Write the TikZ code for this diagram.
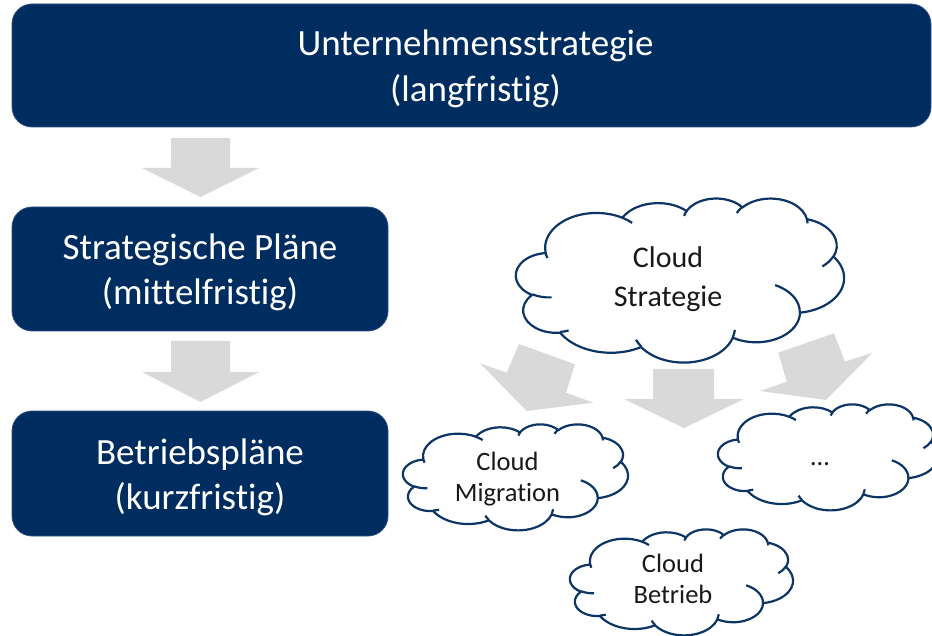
\documentclass[tikz,border=0pt]{standalone}
\usepackage{fontspec}
\setmainfont[Ligatures={NoCommon,NoContextual}]{Carlito}
\definecolor{navy}{RGB}{0,45,96}
\definecolor{navyedge}{RGB}{45,80,130}
\definecolor{cloudedge}{RGB}{12,52,100}
\definecolor{arrowgray}{RGB}{217,217,217}
\definecolor{cloudtext}{RGB}{25,25,25}
% convert DrawingML visual arc angles to TikZ parametric angles
\newcommand\CldConv[6]{%
  \pgfmathsetmacro\CldTS{atan2((#3)*sin(#5),(#4)*cos(#5))}%
  \pgfmathsetmacro\CldTE{atan2((#3)*sin((#5)+(#6)),(#4)*cos((#5)+(#6)))}%
  \pgfmathsetmacro\CldTD{\CldTE-\CldTS}%
  \pgfmathsetmacro\CldTD{\CldTD+360*round(((#6)-\CldTD)/360)}%
  \global\let#1\CldTS
  \global\let#2\CldTD}
\CldConv\clAs\clAd{6.753}{9.190}{-190.4875}{123.7805}
\CldConv\clBs\clBd{5.333}{7.267}{-144.1024}{89.9452}
\CldConv\clCs\clCd{4.365}{5.945}{-145.8079}{99.7230}
\CldConv\clDs\clDd{4.857}{6.595}{-130.9861}{117.2417}
\CldConv\clEs\clEd{5.333}{7.273}{-78.7089}{109.0269}
\CldConv\clFs\clFd{6.775}{9.220}{-46.2673}{130.2690}
\CldConv\clGs\clGd{5.785}{7.867}{0.6250}{114.0333}
\CldConv\clHs\clHd{6.752}{9.215}{22.4516}{115.1726}
\CldConv\clIs\clId{7.720}{10.543}{66.2426}{75.7110}
\CldConv\clJs\clJd{4.360}{5.918}{-274.9421}{146.7356}
\CldConv\clKs\clKd{4.345}{5.945}{-246.8285}{152.5189}
\CldConv\ciAs\ciAd{4.345}{5.945}{86.7420}{26.4295}
\CldConv\ciBs\ciBd{4.360}{5.918}{73.6105}{11.4475}
\CldConv\ciCs\ciCd{6.752}{9.215}{137.6242}{14.0811}
\CldConv\ciDs\ciDd{6.752}{9.215}{6.4533}{15.9984}
\CldConv\ciEs\ciEd{5.785}{7.867}{-70.2924}{70.9174}
\CldConv\ciFs\ciFd{5.333}{7.273}{30.3180}{27.7515}
\CldConv\ciGs\ciGd{4.857}{6.595}{-13.7443}{14.8589}
\CldConv\ciHs\ciHd{4.857}{6.595}{-149.1815}{18.1954}
\CldConv\ciIs\ciId{4.365}{5.945}{-163.4943}{17.8409}
\CldConv\ciJs\ciJd{6.753}{9.190}{-66.7070}{12.3194}
\CldConv\ciKs\ciKd{6.753}{9.190}{157.6544}{11.8582}
\tikzset{
  planbox/.style={fill=navy, draw=navyedge, line width=0.8pt, rounded corners=20pt, inner sep=0pt},
  boxtext/.style={text=white, align=center, font=\fontsize{37}{45.5}\selectfont, inner sep=0pt},
  blockarrow/.style={fill=arrowgray, draw=none},
  cloudline/.style={draw=cloudedge, line width=2.2pt, line join=round},
  cloudtxtbig/.style={text=cloudtext, align=center, font=\fontsize{30}{38.5}\selectfont, inner sep=0pt},
  cloudtxt/.style={text=cloudtext, align=center, font=\fontsize{26.5}{31}\selectfont, inner sep=0pt},
  pics/pptcloud/.style 2 args={code={
    \begin{scope}[xscale=#1/43.2, yscale=#2/43.2]
      \path[cloudline, fill=white] (3.9,14.37)
        arc[x radius=6.753, y radius=9.190, start angle=\clAs, delta angle=\clAd]
        arc[x radius=5.333, y radius=7.267, start angle=\clBs, delta angle=\clBd]
        arc[x radius=4.365, y radius=5.945, start angle=\clCs, delta angle=\clCd]
        arc[x radius=4.857, y radius=6.595, start angle=\clDs, delta angle=\clDd]
        arc[x radius=5.333, y radius=7.273, start angle=\clEs, delta angle=\clEd]
        arc[x radius=6.775, y radius=9.220, start angle=\clFs, delta angle=\clFd]
        arc[x radius=5.785, y radius=7.867, start angle=\clGs, delta angle=\clGd]
        arc[x radius=6.752, y radius=9.215, start angle=\clHs, delta angle=\clHd]
        arc[x radius=7.720, y radius=10.543, start angle=\clIs, delta angle=\clId]
        arc[x radius=4.360, y radius=5.918, start angle=\clJs, delta angle=\clJd]
        arc[x radius=4.345, y radius=5.945, start angle=\clKs, delta angle=\clKd]
        -- cycle;
      \path[cloudline]
        (4.693,26.177) arc[x radius=4.345, y radius=5.945, start angle=\ciAs, delta angle=\ciAd]
        (6.928,34.899) arc[x radius=4.360, y radius=5.918, start angle=\ciBs, delta angle=\ciBd]
        (16.478,39.090) arc[x radius=6.752, y radius=9.215, start angle=\ciCs, delta angle=\ciCd]
        (28.827,34.751) arc[x radius=6.752, y radius=9.215, start angle=\ciDs, delta angle=\ciDd]
        (34.129,22.954) arc[x radius=5.785, y radius=7.867, start angle=\ciEs, delta angle=\ciEd]
        (41.798,15.354) arc[x radius=5.333, y radius=7.273, start angle=\ciFs, delta angle=\ciFd]
        (38.324,5.426) arc[x radius=4.857, y radius=6.595, start angle=\ciGs, delta angle=\ciGd]
        (29.078,3.952) arc[x radius=4.857, y radius=6.595, start angle=\ciHs, delta angle=\ciHd]
        (22.141,4.720) arc[x radius=4.365, y radius=5.945, start angle=\ciIs, delta angle=\ciId]
        (14.000,5.192) arc[x radius=6.753, y radius=9.190, start angle=\ciJs, delta angle=\ciJd]
        (4.127,15.789) arc[x radius=6.753, y radius=9.190, start angle=\ciKs, delta angle=\ciKd];
    \end{scope}}}
}
\begin{document}
\begin{tikzpicture}[x=1pt, y=-1pt]
\path[use as bounding box, clip] (0,0) rectangle (932,636);
% plan boxes
\node[planbox, minimum width=919pt, minimum height=123pt] (ustrat) at (471.5,65.5) {};
\node[planbox, minimum width=376pt, minimum height=124pt] (splan) at (200,269) {};
\node[planbox, minimum width=376pt, minimum height=125pt] (bplan) at (200,473.5) {};
\node[boxtext] (ustrat-t) at ([shift={(4,3.5)}]ustrat.center) {Unternehmensstrategie\\(langfristig)};
\node[boxtext] (splan-t) at ([shift={(0,3.5)}]splan.center) {Strategische Pläne\\(mittelfristig)};
\node[boxtext] (bplan-t) at ([shift={(0,4)}]bplan.center) {Betriebspläne\\(kurzfristig)};
% block arrows
\fill[blockarrow] (171,138) -- (230,138) -- (230,168) -- (259,168) -- (200.5,197)
  -- (142,168) -- (171,168) -- cycle;
\fill[blockarrow] (171,341) -- (230,341) -- (230,372) -- (259,372) -- (200.5,402)
  -- (142,372) -- (171,372) -- cycle;
\fill[blockarrow] (653,369) -- (714,369) -- (714,399) -- (744,399) -- (684,428)
  -- (624,399) -- (653,399) -- cycle;
\fill[blockarrow] (519,344) -- (575,364.3) -- (566,392.7) -- (593.3,402.7)
  -- (526.7,411) -- (480,363.3) -- (506.7,372.7) -- cycle;
\fill[blockarrow] (778.3,352.7) -- (834,333.3) -- (845,361.7) -- (872.7,352.7)
  -- (826,400) -- (760,391) -- (786.7,381.7) -- cycle;
% clouds
\pic at (516,198) {pptcloud={328}{164}};
\pic at (403,424) {pptcloud={225}{106}};
\pic at (718,404) {pptcloud={220}{106}};
\pic at (570,529) {pptcloud={223}{106}};
\node[cloudtxtbig] (cstrat) at (668,279) {Cloud\\Strategie};
\node[cloudtxt] (cmig) at (507.5,479) {Cloud\\Migration};
\node[cloudtxt, anchor=base] (cmore) at (820,465.5) {…};
\node[cloudtxt] (cbetr) at (673,578.5) {Cloud\\Betrieb};
\end{tikzpicture}
\end{document}
